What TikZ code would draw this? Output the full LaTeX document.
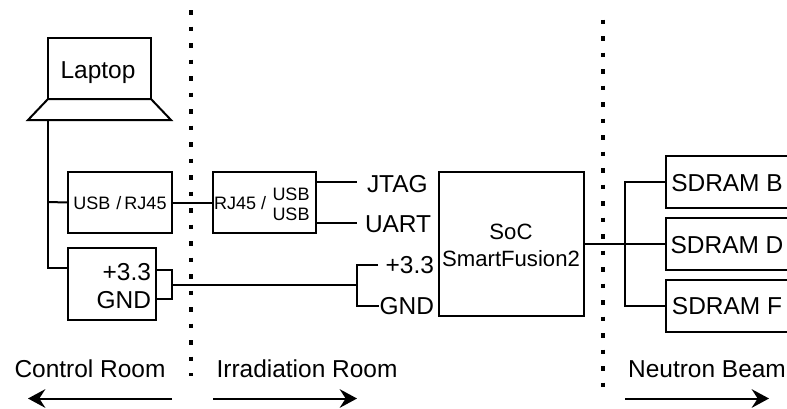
\documentclass[tikz,border=0pt]{standalone}
\usepackage{fontspec}
\setmainfont{Liberation Sans}
\usetikzlibrary{arrows.meta}
\newcommand{\fL}{\fontsize{18.35}{21}\selectfont}
\newcommand{\fM}{\fontsize{16.6}{20.3}\selectfont}
\newcommand{\fS}{\fontsize{13.5}{15}\selectfont}
\tikzset{
  px/.style={x=0.75pt,y=-0.75pt},
  wire/.style={line width=1.5pt,line join=miter,black},
  box/.style={draw,line width=1.5pt,inner sep=0pt,outer sep=0pt,anchor=north west,align=center},
  lbl/.style={inner sep=0pt,outer sep=0pt,font=\fL,text=black},
  lblm/.style={inner sep=0pt,outer sep=0pt,font=\fM,text=black},
  lbls/.style={inner sep=0pt,outer sep=0pt,font=\fS,text=black},
  roomarrow/.style={line width=1.5pt,-{Stealth[length=13pt,width=14pt,inset=4.5pt]}},
  sep/.style={line width=3.4pt,dash pattern=on 3.4pt off 8.98pt},
  bw/.style 2 args={minimum width=#1*0.75pt,minimum height=#2*0.75pt}
}
\begin{document}
\begin{tikzpicture}[px]
\path[use as bounding box] (0,0) rectangle (787,408);
\clip (0,0) rectangle (787,408);
% separators
\coordinate (sepAa) at (191,10);
\coordinate (sepAb) at (191,376);
\coordinate (sepBa) at (603,19.5);
\coordinate (sepBb) at (603,387);
\draw[sep] (sepAa) -- (sepAb);
\draw[sep] (sepBa) -- (sepBb);
% laptop
\node[box,bw={103}{61}] (laptop) at (48,38) {};
\node[lbl,anchor=base] (laptoptxt) at (98,78.5) {Laptop};
\coordinate (baseR) at (171,120);
\coordinate (baseL) at (28,120);
\coordinate (lapbase) at (48,120);
\draw[wire,fill=white] (laptop.south west) -- (laptop.south east) -- (baseR) -- (baseL) -- cycle;
% left boxes
\node[box,bw={104}{61}] (usb) at (68,172) {};
\node[lbls,anchor=base] (usbtxt) at (120,209) {USB\,\,/\,RJ45};
\node[box,bw={88}{72}] (pwr) at (68,248) {};
\node[lbl,anchor=base east] (p33) at (151,280) {+3.3};
\node[lbl,anchor=base east] (pgnd) at (151,308.5) {GND};
% mid box
\node[box,bw={103}{61}] (rj) at (213,172) {};
\node[lbls,anchor=base west] (rjtxt) at (214,209) {RJ45 /};
\node[lbls,anchor=base] (usba) at (291,200) {USB};
\node[lbls,anchor=base] (usbb) at (291,220) {USB};
% SoC
\node[box,bw={145}{144}] (soc) at (439,172) {};
\node[lblm,anchor=base] (soctxt) at (511,239) {SoC};
\node[lblm,anchor=base] (sftxt) at (511,266) {SmartFusion2};
% signal labels
\node[lbl,anchor=base west] (jtag) at (367,192) {JTAG};
\node[lbl,anchor=base west] (uart) at (365,232) {UART};
\node[lbl,anchor=base east] (v33) at (434,273) {+3.3};
\node[lbl,anchor=base east] (gnd) at (434,314.5) {GND};
% SDRAM
\node[box,bw={122}{52}] (sb) at (666,156) {};
\node[box,bw={122}{52}] (sd) at (666,218) {};
\node[box,bw={122}{52}] (sf) at (666,280) {};
\node[lbl,anchor=base] (sbtxt) at (727,191.5) {SDRAM B};
\node[lbl,anchor=base] (sdtxt) at (727,253) {SDRAM D};
\node[lbl,anchor=base] (sftx) at (727,314.5) {SDRAM F};
% junctions and free ends
\coordinate (jl) at (48,202);
\coordinate (pwrin) at (68,268);
\coordinate (rjJ) at (316,182);
\coordinate (jtagend) at (357,182);
\coordinate (rjU) at (316,223);
\coordinate (uartend) at (357,223);
\coordinate (pinA) at (156,270);
\coordinate (pinB) at (156,298.5);
\coordinate (loopjoin) at (172,285);
\coordinate (pwrsplit) at (357,285);
\coordinate (v33end) at (378,264.5);
\coordinate (gndend) at (379,306);
\coordinate (bus) at (625,244);
% wires
\draw[wire] (lapbase) |- (pwrin);
\draw[wire] (jl) -- (usb.west);
\draw[wire] (usb.east) -- (rj.west);
\draw[wire] (rjJ) -- (jtagend);
\draw[wire] (rjU) -- (uartend);
\draw[wire] (pinA) -| (loopjoin) |- (pinB);
\draw[wire] (loopjoin) -- (pwrsplit);
\draw[wire] (v33end) -| (pwrsplit) |- (gndend);
\draw[wire] (soc.east) -- (sd.west);
\draw[wire] (sb.west) -| (bus) |- (sf.west);
% room labels
\node[lbl,anchor=base] (ctl) at (90,377) {Control Room};
\node[lbl,anchor=base] (irr) at (307,377) {Irradiation Room};
\node[lbl,anchor=base] (neu) at (707,377.5) {Neutron Beam};
\coordinate (a1s) at (172,398.5); \coordinate (a1e) at (28,398.5);
\coordinate (a2s) at (213,398.5); \coordinate (a2e) at (357,398.5);
\coordinate (a3s) at (625,398.5); \coordinate (a3e) at (769,398.5);
\draw[roomarrow] (a1s) -- (a1e);
\draw[roomarrow] (a2s) -- (a2e);
\draw[roomarrow] (a3s) -- (a3e);
\end{tikzpicture}
\end{document}
